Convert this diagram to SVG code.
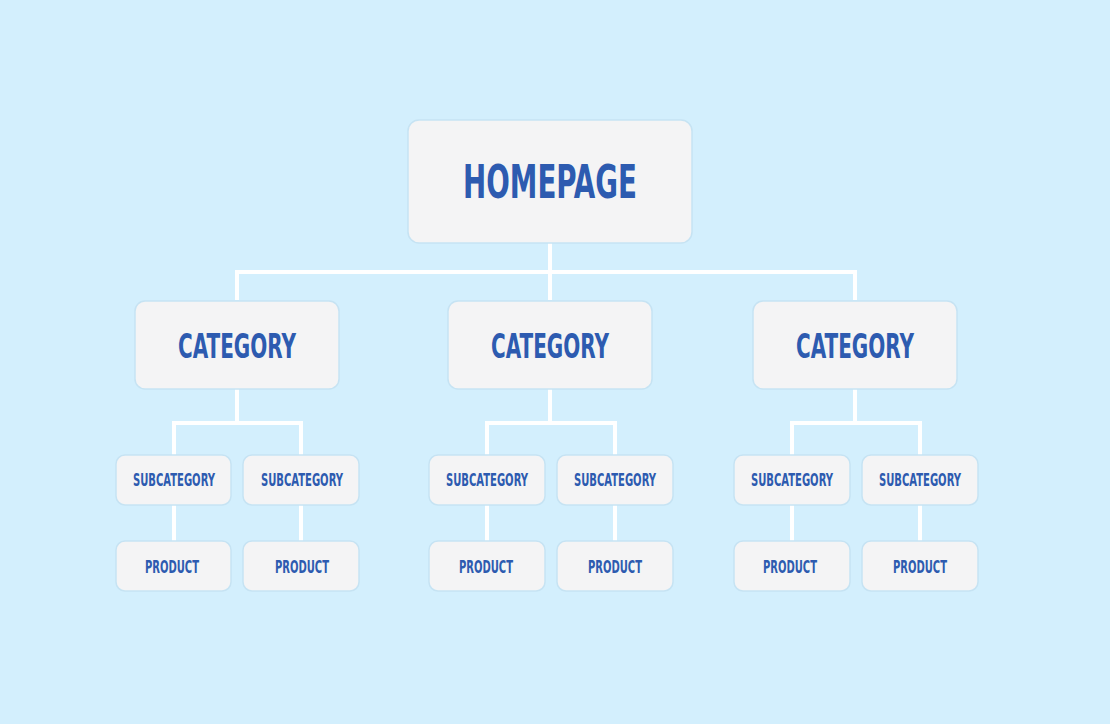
<svg xmlns="http://www.w3.org/2000/svg" width="1110" height="724" viewBox="0 0 1110 724">
<style>
.box{fill:#f4f4f5;stroke:#c6e3f3;stroke-width:1.5}
.t{font-family:"Liberation Sans Narrow","DejaVu Sans Condensed","Liberation Sans",sans-serif;font-weight:bold;fill:#2d5bb0;text-anchor:middle}
.conn{fill:none;stroke:#ffffff;stroke-width:4;stroke-linecap:butt;stroke-linejoin:miter}
</style>
<rect width="1110" height="724" fill="#d3effd"/>
<g id="connectors" class="conn">
<path d="M550 243V272M237 300V272H855V300M550 272V300"/>
<path d="M237 389V423M174 455V423H301V455M174 505V541M301 505V541"/>
<path d="M550 389V423M487 455V423H615V455M487 505V541M615 505V541"/>
<path d="M855 389V423M792 455V423H920V455M792 505V541M920 505V541"/>
</g>
<g id="homepage"><rect class="box" x="408" y="120" width="284" height="123" rx="11"/><text class="t" x="550" y="198" font-size="46" textLength="174" lengthAdjust="spacingAndGlyphs">HOMEPAGE</text></g>
<g id="cat1"><rect class="box" x="135" y="301" width="204" height="88" rx="10"/><text class="t" x="237" y="358" font-size="33" textLength="118" lengthAdjust="spacingAndGlyphs">CATEGORY</text></g>
<g id="cat2"><rect class="box" x="448" y="301" width="204" height="88" rx="10"/><text class="t" x="550" y="358" font-size="33" textLength="118" lengthAdjust="spacingAndGlyphs">CATEGORY</text></g>
<g id="cat3"><rect class="box" x="753" y="301" width="204" height="88" rx="10"/><text class="t" x="855" y="358" font-size="33" textLength="118" lengthAdjust="spacingAndGlyphs">CATEGORY</text></g>
<g id="sub1"><rect class="box" x="116" y="455" width="115" height="50" rx="9"/><text class="t" x="174" y="486" font-size="17" textLength="82" lengthAdjust="spacingAndGlyphs">SUBCATEGORY</text></g>
<g id="sub2"><rect class="box" x="243" y="455" width="116" height="50" rx="9"/><text class="t" x="302" y="486" font-size="17" textLength="82" lengthAdjust="spacingAndGlyphs">SUBCATEGORY</text></g>
<g id="sub3"><rect class="box" x="429" y="455" width="116" height="50" rx="9"/><text class="t" x="487" y="486" font-size="17" textLength="82" lengthAdjust="spacingAndGlyphs">SUBCATEGORY</text></g>
<g id="sub4"><rect class="box" x="557" y="455" width="116" height="50" rx="9"/><text class="t" x="615" y="486" font-size="17" textLength="82" lengthAdjust="spacingAndGlyphs">SUBCATEGORY</text></g>
<g id="sub5"><rect class="box" x="734" y="455" width="116" height="50" rx="9"/><text class="t" x="792" y="486" font-size="17" textLength="82" lengthAdjust="spacingAndGlyphs">SUBCATEGORY</text></g>
<g id="sub6"><rect class="box" x="862" y="455" width="116" height="50" rx="9"/><text class="t" x="920" y="486" font-size="17" textLength="82" lengthAdjust="spacingAndGlyphs">SUBCATEGORY</text></g>
<g id="prod1"><rect class="box" x="116" y="541" width="115" height="50" rx="9"/><text class="t" x="172" y="573" font-size="17" textLength="54" lengthAdjust="spacingAndGlyphs">PRODUCT</text></g>
<g id="prod2"><rect class="box" x="243" y="541" width="116" height="50" rx="9"/><text class="t" x="302" y="573" font-size="17" textLength="54" lengthAdjust="spacingAndGlyphs">PRODUCT</text></g>
<g id="prod3"><rect class="box" x="429" y="541" width="116" height="50" rx="9"/><text class="t" x="486" y="573" font-size="17" textLength="54" lengthAdjust="spacingAndGlyphs">PRODUCT</text></g>
<g id="prod4"><rect class="box" x="557" y="541" width="116" height="50" rx="9"/><text class="t" x="615" y="573" font-size="17" textLength="54" lengthAdjust="spacingAndGlyphs">PRODUCT</text></g>
<g id="prod5"><rect class="box" x="734" y="541" width="116" height="50" rx="9"/><text class="t" x="790" y="573" font-size="17" textLength="54" lengthAdjust="spacingAndGlyphs">PRODUCT</text></g>
<g id="prod6"><rect class="box" x="862" y="541" width="116" height="50" rx="9"/><text class="t" x="920" y="573" font-size="17" textLength="54" lengthAdjust="spacingAndGlyphs">PRODUCT</text></g>
</svg>
